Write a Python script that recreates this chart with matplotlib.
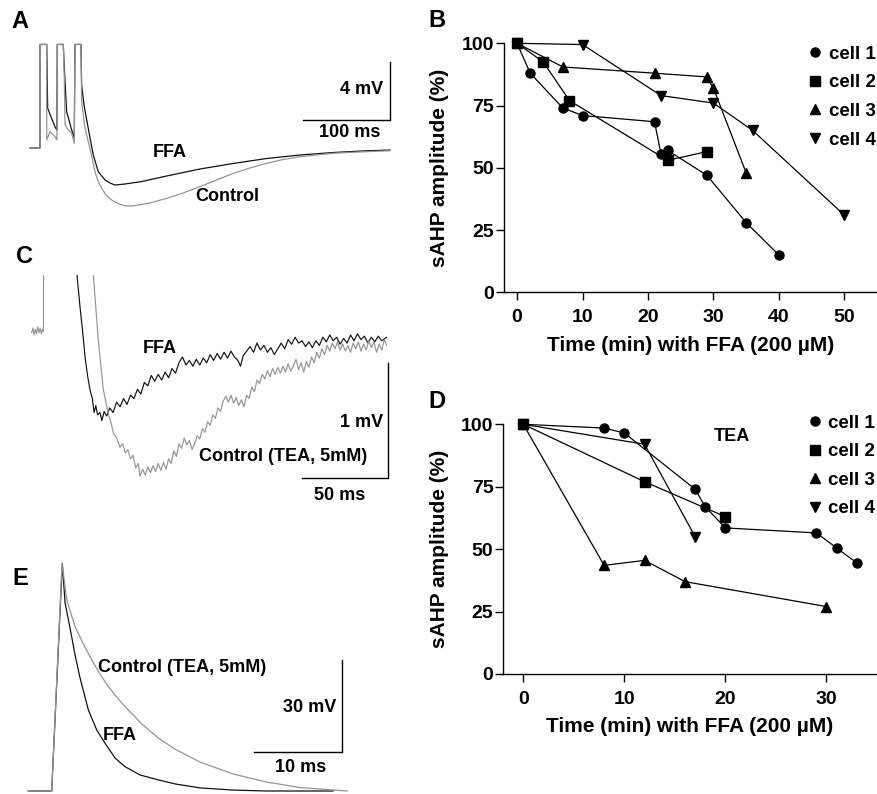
import matplotlib
matplotlib.use('Agg')
import matplotlib.pyplot as plt
from matplotlib.lines import Line2D

plt.rcParams['font.family'] = ['Liberation Sans', 'DejaVu Sans']
plt.rcParams['font.weight'] = 'bold'
plt.rcParams['axes.labelweight'] = 'bold'

W, H = 877, 794
BLACK = '#111111'
GREY = '#949494'

# ---- panel A: sAHP after 3 spikes (ms, mV) ----
a_ctrl_t = [0, 11.5, 11.5, 19.3, 19.3, 23.1, 28.8, 31.1, 31.5, 38.4, 39.6, 40.4, 44.2, 48.1, 51.1,
            51.9, 58.8, 59.6, 63.4, 69.2, 75.0, 78.4, 82.7, 87.7, 94.2, 101.5, 109.6, 117.6, 124.9,
            138.4, 157.7, 176.5, 196.1, 215.3, 234.5, 253.7, 273.0, 291.8, 311.4, 349.8, 388.3, 415.2]
a_ctrl_v = [0, 0, 7.1, 7.1, 0.55, 1.12, 0.78, 0.55, 7.1, 7.1, 4.78, 1.58, 1.23, 1.01, 0.32,
            7.1, 7.1, 3.18, 1.35, -0.02, -1.63, -2.26, -2.76, -3.22, -3.57, -3.81, -3.96, -3.98, -3.91,
            -3.77, -3.45, -3.09, -2.65, -2.19, -1.74, -1.37, -1.05, -0.79, -0.60, -0.36, -0.25, -0.19]
a_ffa_t = [0, 11.5, 11.5, 19.3, 20.4, 28.8, 31.1, 31.5, 38.4, 39.6, 42.3, 48.1, 51.1,
           51.9, 58.8, 59.6, 62.3, 67.2, 73.0, 78.8, 86.5, 92.3, 98.0, 109.6, 128.8, 157.7, 196.1,
           234.5, 273.0, 311.4, 349.8, 388.3, 415.2]
a_ffa_v = [0, 0, 7.1, 7.1, 2.72, 1.46, 1.23, 7.1, 7.1, 5.47, 2.49, 1.23, 0.67,
           7.1, 7.1, 4.32, 2.95, 1.35, -0.48, -1.63, -2.19, -2.40, -2.54, -2.47, -2.30, -1.92, -1.44,
           -1.06, -0.72, -0.48, -0.31, -0.19, -0.14]

# ---- panel C: sAHP in TEA (ms, mV) ----
c_ctrl_t = [0, 0.7, 1.4, 2.1, 2.8, 3.5, 4.2, 4.9, 5.6, 6.3, 6.8, 6.9, 20, 35.0, 38.4, 41.3, 44.2,
            46, 47.1, 49, 50.9, 52.5, 54, 55.5, 57, 58.5, 60, 61.5, 62.5, 64, 65.5, 67, 68.5, 70,
            71.5, 73, 74.5, 76, 77.5, 79, 80.5, 82, 83.5, 85, 86.5, 88, 89.5, 91, 92.5, 94, 95.5,
            97, 98.5, 100, 101.5, 103, 104.5, 106, 107.5, 109, 110.5, 112, 113.5, 115, 116.5, 118,
            119.5, 121, 122.5, 124, 125.5, 127, 128.5, 130, 131.5, 133, 134.5, 136, 137.5, 139,
            140.5, 142, 143.5, 145, 146.5, 148, 149.5, 151, 152.5, 154, 155.5, 157, 158.5, 160,
            161.5, 163, 164.5, 166, 167.5, 169, 170.5, 172, 173.5, 175, 176.5, 178, 179.5, 181,
            182.5, 184, 185.5, 187, 188.5, 190, 191.5, 193, 194.5, 196, 197.5, 199, 200.5, 202,
            203.5, 204.8]
c_ctrl_v = [-0.01, 0.03, -0.03, 0.02, -0.02, 0.04, -0.01, 0.03, -0.02, 0.02, 0.0, 1.5, 3.0, 0.6,
            -0.07, -0.50, -0.71, -0.80, -0.88, -0.92, -1.00, -0.97, -1.05, -1.02, -1.10, -1.07,
            -1.18, -1.14, -1.25, -1.19, -1.24, -1.17, -1.22, -1.16, -1.21, -1.14, -1.20, -1.13,
            -1.19, -1.10, -1.14, -1.03, -1.08, -0.97, -1.01, -0.92, -0.98, -0.94, -1.02, -0.97,
            -0.90, -0.93, -0.84, -0.87, -0.78, -0.81, -0.72, -0.75, -0.66, -0.69, -0.60, -0.56,
            -0.61, -0.55, -0.62, -0.57, -0.64, -0.59, -0.65, -0.55, -0.58, -0.48, -0.52, -0.42,
            -0.45, -0.37, -0.41, -0.34, -0.39, -0.32, -0.37, -0.31, -0.36, -0.30, -0.35, -0.28,
            -0.34, -0.30, -0.24, -0.33, -0.27, -0.35, -0.26, -0.31, -0.22, -0.27, -0.18, -0.23,
            -0.15, -0.20, -0.12, -0.17, -0.10, -0.15, -0.09, -0.16, -0.11, -0.17, -0.12, -0.18,
            -0.10, -0.15, -0.09, -0.17, -0.11, -0.16, -0.08, -0.14, -0.09, -0.18, -0.11, -0.16,
            -0.07, -0.12]
c_ffa_t = [22, 26.3, 27.9, 29.4, 30.8, 32.2, 33.6, 35.0, 36.0, 37.0, 38.0, 39.4, 40.5, 41.8, 43.3,
           45, 47, 49, 51, 53, 55, 57, 59, 61, 63, 65, 67, 69, 71, 73, 75, 77, 79, 81, 83, 85,
           87, 89, 91, 93, 95, 97, 99, 101, 103, 105, 107, 109, 111, 113, 115, 117, 119, 120.5,
           122, 124, 126, 128, 130, 132, 134, 136, 138, 140, 142, 144, 146, 148, 150, 152, 154,
           156, 158, 160, 162, 164, 166, 168, 170, 172, 174, 176, 178, 180, 182, 184, 186, 188,
           190, 192, 194, 196, 198, 200, 202, 204.8]
c_ffa_v = [3.0, 0.46, 0.21, 0.0, -0.22, -0.38, -0.50, -0.58, -0.70, -0.64, -0.72, -0.70, -0.77,
           -0.69, -0.73, -0.66, -0.70, -0.61, -0.65, -0.58, -0.63, -0.55, -0.58, -0.50, -0.54,
           -0.44, -0.47, -0.38, -0.43, -0.37, -0.42, -0.35, -0.40, -0.32, -0.36, -0.27, -0.22,
           -0.29, -0.25, -0.30, -0.24, -0.29, -0.23, -0.27, -0.20, -0.25, -0.19, -0.24, -0.18,
           -0.23, -0.17, -0.22, -0.25, -0.30, -0.21, -0.17, -0.13, -0.18, -0.10, -0.16, -0.12,
           -0.18, -0.14, -0.20, -0.15, -0.10, -0.15, -0.07, -0.11, -0.05, -0.10, -0.08, -0.13,
           -0.09, -0.14, -0.08, -0.12, -0.05, -0.09, -0.03, -0.08, -0.05, -0.11, -0.06, -0.10,
           -0.03, -0.08, -0.02, -0.07, -0.04, -0.10, -0.05, -0.09, -0.04, -0.08, -0.05]

# ---- panel E: action potential (ms, mV) ----
e_ctrl_t = [0, 2.65, 3.82, 4.35, 5.29, 6.23, 7.18, 8.12, 9.06, 10.01, 10.95, 12.84, 14.72,
            16.61, 19.44, 23.2, 27.0, 30.8, 36.1]
e_ctrl_v = [0, 0, 74.0, 62.1, 53.4, 47.8, 42.6, 38.0, 33.9, 30.5, 27.4, 21.8, 17.2,
            13.6, 9.4, 5.5, 2.9, 1.1, 0]
e_ffa_t = [0, 2.65, 3.85, 4.16, 4.72, 5.29, 5.86, 6.80, 7.75, 8.69, 9.82, 10.95, 12.65, 14.72,
           16.61, 19.44, 23.2, 27.0, 34.5]
e_ffa_v = [0, 0, 74.0, 61.1, 53.0, 44.2, 36.7, 26.3, 19.8, 15.5, 10.7, 7.9, 5.2, 3.6,
           2.3, 1.0, 0.3, 0, 0]

# ---- panel B: FFA time course ----
b_t = [[0, 2, 7, 10, 21, 22, 23, 29, 35, 40],
       [0, 4, 8, 23, 29],
       [0, 7, 21, 29, 30, 35],
       [0, 10, 22, 30, 36, 50]]
b_amp = [[100, 88, 74, 71, 68.5, 55.5, 57, 47, 28, 15],
         [100, 92.5, 77, 53, 56.5],
         [100, 90.5, 88, 86.5, 82, 48],
         [100, 99.5, 79, 76, 65, 31]]

# ---- panel D: FFA time course in TEA ----
d_t = [[0, 8, 10, 17, 18, 20, 29, 31, 33],
       [0, 12, 20],
       [0, 8, 12, 16, 30],
       [0, 12, 17]]
d_amp = [[100, 98.5, 96.5, 74, 67, 58.5, 56.5, 50.5, 44.5],
         [100, 77, 63],
         [100, 43.5, 45.5, 37, 27],
         [100, 92, 55]]

cells = ['cell 1', 'cell 2', 'cell 3', 'cell 4']
markers = ['o', 's', '^', 'v']
msizes = [6.5, 6.5, 7, 7]

fig = plt.figure(figsize=(W / 100, H / 100), dpi=100)


def px_axes(l, t, r, b):
    return fig.add_axes([l / W, 1 - b / H, (r - l) / W, (b - t) / H])


def scalebar(ax, x, y, dx, dy):
    ax.plot([x - dx, x, x], [y, y, y + dy], color='k', lw=1.0, clip_on=False)


# A
ax = px_axes(20, 30, 410, 225)
ax.plot(a_ffa_t, a_ffa_v, color=BLACK, lw=0.9)
ax.plot(a_ctrl_t, a_ctrl_v, color=GREY, lw=0.9)
ax.set_xlim(-11.5, 438.3)
ax.set_ylim(-5.28, 8.09)
ax.axis('off')
scalebar(ax, 415.2, 1.92, 100, 4)
ax.text(407, 3.98, '4 mV', ha='right', va='center', fontsize=13)
ax.text(369, 1.03, '100 ms', ha='center', va='center', fontsize=13)
ax.text(161.5, -0.34, 'FFA', ha='center', va='center', fontsize=13)
ax.text(227, -3.36, 'Control', ha='center', va='center', fontsize=13)

# C
ax = px_axes(20, 275, 410, 505)
ax.plot(c_ffa_t, c_ffa_v, color=BLACK, lw=0.85)
ax.plot(c_ctrl_t, c_ctrl_v, color=GREY, lw=0.85)
ax.set_xlim(-6.75, 218.3)
ax.set_ylim(-1.499, 0.488)
ax.axis('off')
scalebar(ax, 205.8, -1.27, 50, 1)
ax.text(202.9, -0.788, '1 mV', ha='right', va='center', fontsize=13)
ax.text(177.9, -1.413, '50 ms', ha='center', va='center', fontsize=13)
ax.text(74.0, -0.145, 'FFA', ha='center', va='center', fontsize=13)
ax.text(145.2, -1.08, 'Control (TEA, 5mM)', ha='center', va='center', fontsize=13)

# E
ax = px_axes(20, 555, 410, 794)
ax.plot(e_ffa_t, e_ffa_v, color=BLACK, lw=0.9)
ax.plot(e_ctrl_t, e_ctrl_v, color=GREY, lw=0.9)
ax.set_xlim(-0.94, 43.2)
ax.set_ylim(-0.975, 76.7)
ax.axis('off')
scalebar(ax, 35.5, 12.58, 10, 30)
ax.text(34.9, 27.2, '30 mV', ha='right', va='center', fontsize=13)
ax.text(30.8, 7.7, '10 ms', ha='center', va='center', fontsize=13)
ax.text(10.4, 18.0, 'FFA', ha='center', va='center', fontsize=13)
ax.text(17.4, 40.2, 'Control (TEA, 5mM)', ha='center', va='center', fontsize=13)


def time_course(ax, ts, amps, xmax, xticks, leg_y):
    for t, a, m, s in zip(ts, amps, markers, msizes):
        ax.plot(t, a, color='k', lw=0.9, marker=m, markersize=s, clip_on=False)
    ax.set_xlim(-2, xmax)
    ax.set_ylim(0, 100)
    ax.set_xticks(xticks)
    ax.set_yticks([0, 25, 50, 75, 100])
    for s in ['top', 'right']:
        ax.spines[s].set_visible(False)
    for s in ['left', 'bottom']:
        ax.spines[s].set_linewidth(1.0)
    ax.tick_params(length=6, width=1.0, labelsize=14)
    ax.tick_params(axis='x', pad=6)
    ax.tick_params(axis='y', pad=1)
    ax.set_xlabel('Time (min) with FFA (200 µM)', fontsize=15, labelpad=7)
    ax.set_ylabel('sAHP amplitude (%)', fontsize=15, labelpad=9)
    handles = [Line2D([0], [0], color='k', marker=m, markersize=s, ls='none')
               for m, s in zip(markers, msizes)]
    ax.legend(handles, cells, loc='upper left', bbox_to_anchor=(0.815, leg_y),
              frameon=False, handlelength=0.8, handletextpad=0.3, labelspacing=0.61,
              borderpad=0, borderaxespad=0, fontsize=13.5)


ax = px_axes(504, 43.3, 877, 292.3)
time_course(ax, b_t, b_amp, 55, [0, 10, 20, 30, 40, 50], 0.99)

ax = px_axes(503.1, 424.3, 877, 674)
time_course(ax, d_t, d_amp, 35, [0, 10, 20, 30], 1.039)
ax.text(20.6, 95, 'TEA', ha='center', va='center', fontsize=13)

for lab, x, y in [('A', 11, 28.3), ('B', 428, 26.7), ('C', 16, 263.3), ('D', 428, 408), ('E', 12, 585)]:
    fig.text(x / W, 1 - y / H, lab, fontsize=17, ha='left', va='baseline')

fig.savefig('out.png', dpi=100)
